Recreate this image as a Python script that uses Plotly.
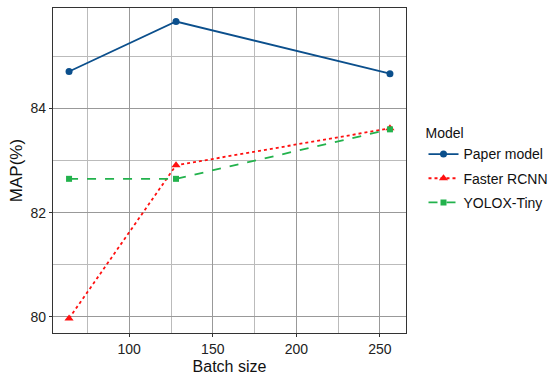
import plotly.graph_objects as go

batch = [64, 128, 256]
paper_model = [84.71, 85.67, 84.67]
faster_rcnn = [79.97, 82.91, 83.62]
yolox_tiny = [82.65, 82.65, 83.60]

x_ticks = [100, 150, 200, 250]
y_ticks = [80, 82, 84]

fig = go.Figure()
fig.add_trace(go.Scatter(x=batch, y=paper_model, name="Paper model", mode="lines+markers", legendgroup="a",
                         line=dict(color="#0B4F8C", width=1.8, dash="solid"),
                         marker=dict(symbol="circle", size=7, color="#0B4F8C")))
fig.add_trace(go.Scatter(x=batch, y=faster_rcnn, name="Faster RCNN", mode="lines+markers", legendgroup="b",
                         line=dict(color="#FF1010", width=1.8, dash="dot"),
                         marker=dict(symbol="triangle-up", size=8, color="#FF1010")))
fig.add_trace(go.Scatter(x=batch, y=yolox_tiny, name="YOLOX-Tiny", mode="lines+markers", legendgroup="c",
                         line=dict(color="#22B24C", width=1.8, dash="dash"),
                         marker=dict(symbol="square", size=6, color="#22B24C")))

axis_common = dict(
    showline=True, linecolor="#333333", linewidth=1.2, mirror=True,
    ticks="outside", ticklen=3, tickcolor="#333333", tickwidth=1,
    showgrid=True, gridcolor="#999999", gridwidth=1,
    zeroline=False, automargin=False,
    tickfont=dict(family="Liberation Sans, Arial", size=14, color="#222222"),
)

fig.update_xaxes(range=[54.4, 265.6], tickvals=x_ticks,
                 minor=dict(tickvals=[75, 125, 175, 225], showgrid=True, gridcolor="#bbbbbb", gridwidth=0.8, ticks=""),
                 title=dict(text="Batch size", font=dict(family="Liberation Sans, Arial", size=16, color="#111111"), standoff=4),
                 **axis_common)
fig.update_yaxes(range=[79.69, 85.93], tickvals=y_ticks,
                 minor=dict(tickvals=[81, 83, 85], showgrid=True, gridcolor="#bbbbbb", gridwidth=0.8, ticks=""),
                 title=dict(text="MAP(%)", font=dict(family="Liberation Sans, Arial", size=17, color="#111111"), standoff=3),
                 **axis_common)

fig.update_layout(
    width=550, height=382,
    margin=dict(l=53, r=144, t=8, b=49, autoexpand=False),
    plot_bgcolor="white", paper_bgcolor="white",
    font=dict(family="Liberation Sans, Arial", size=14, color="#111111"),
    legend=dict(
        title=dict(text="Model", font=dict(size=14)),
        xref="container", yref="container",
        x=0.770, xanchor="left", y=0.557, yanchor="middle",
        font=dict(size=14), tracegroupgap=3, itemwidth=30,
        bgcolor="rgba(0,0,0,0)",
    ),
)

fig.write_html("out.html", config={"displayModeBar": False},
               post_script="document.body.style.margin='0';document.body.style.padding='0';")
